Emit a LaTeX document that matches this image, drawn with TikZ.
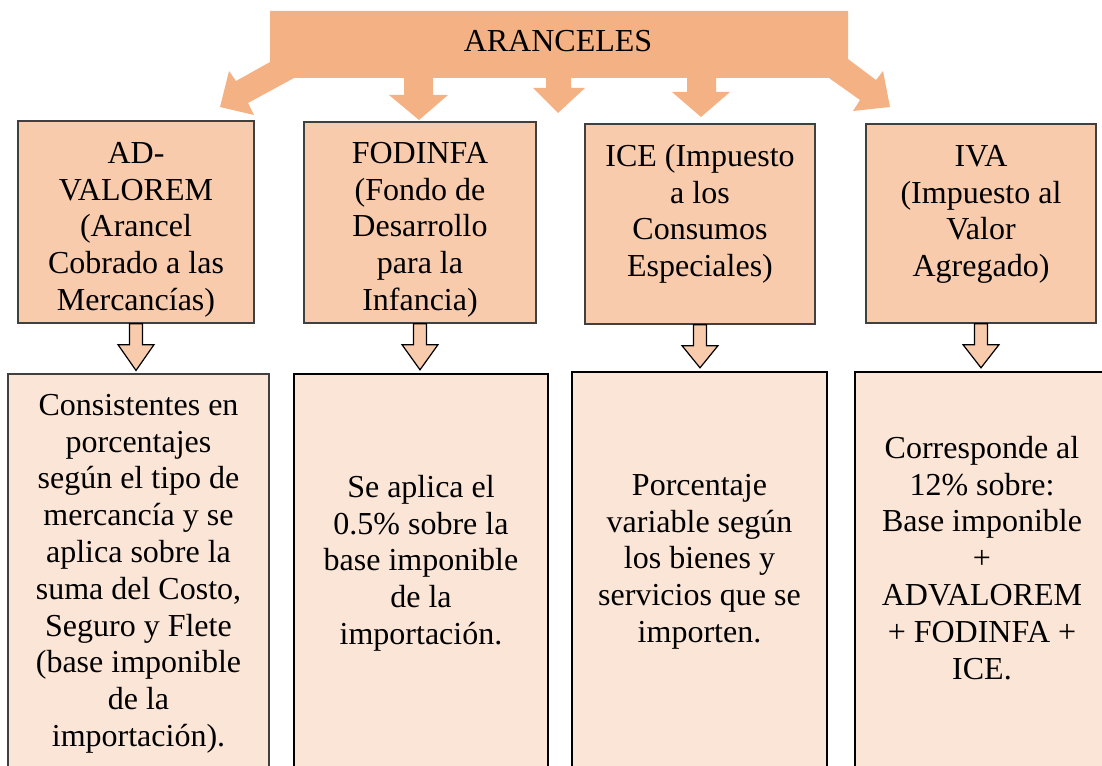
\documentclass[tikz,border=0pt]{standalone}
\usepackage{fontspec}
\setmainfont{Liberation Serif}
\usetikzlibrary{calc}
\definecolor{bigor}{HTML}{F4B183}
\definecolor{midor}{HTML}{F8CBAD}
\definecolor{lightor}{HTML}{FBE5D6}
\definecolor{boxgray}{HTML}{404040}
\newcommand\fs{\rule{0pt}{30pt}}
\begin{document}
\begin{tikzpicture}[x=1pt,y=-1pt,
  topbox/.style={draw=boxgray, line width=1.3pt, fill=midor, inner sep=0pt, rectangle},
  botbox/.style={draw=black, line width=2.4pt, fill=lightor, inner sep=0pt, rectangle},
  botboxthin/.style={draw=boxgray, line width=1.1pt, fill=lightor, inner sep=0pt, rectangle},
  txt/.style={font=\fontsize{32}{36.8}\selectfont, align=center, inner sep=0pt, anchor=north},
  sarrow/.style={draw=black, line width=1.2pt, fill=midor, line join=miter}]
\useasboundingbox (0,0) rectangle (1102,765);
\clip (0,0) rectangle (1102,765);
% big arrow shape
\fill[bigor] (270,11) -- (848,11) -- (848,59) -- (876,80) -- (883,71) -- (890,107) -- (853,111) -- (860,100) -- (829,78)
  -- (716,78) -- (716,92) -- (730,92) -- (701,117) -- (672,92) -- (687,92) -- (687,78)
  -- (571,78) -- (571,88) -- (585,88) -- (558,113) -- (533,88) -- (546,88) -- (546,78)
  -- (433,78) -- (433,95) -- (448,95) -- (419,120) -- (389,95) -- (404,95) -- (404,78)
  -- (294,78) -- (248,103) -- (254,115) -- (220,107) -- (229,71) -- (236,81) -- (270,62) -- cycle;
\node[font=\fontsize{32}{36.8}\selectfont, anchor=base, inner sep=0pt] (title) at (558,52) {ARANCELES};
% top boxes
\node[topbox, minimum width=236pt, minimum height=202pt] (t1) at (136,222) {};
\node[topbox, minimum width=232pt, minimum height=201pt] (t2) at (420,222.5) {};
\node[topbox, minimum width=230pt, minimum height=200pt] (t3) at (700,224) {};
\node[topbox, minimum width=230pt, minimum height=199pt] (t4) at (981,223.5) {};
% bottom boxes
\node[botboxthin, minimum width=261pt, minimum height=446pt] (d1) at (138.5,597) {};
\node[botbox, minimum width=254pt, minimum height=446pt] (d2) at (421,597) {};
\node[botbox, minimum width=255pt, minimum height=448pt] (d3) at (699.5,596) {};
\node[botbox, minimum width=255pt, minimum height=448pt] (d4) at (982.5,596) {};
% small arrows
\foreach \i in {1,...,4}{
  \draw[sarrow] ($(t\i.south)+(-6.5,0)$) -- ++(0,21) -- ++(-11.5,0)
    -- ($(t\i.south |- d\i.north)+(0,-3)$)
    -- ($(t\i.south)+(18,21)$) -- ++(-11.5,0) -- ($(t\i.south)+(6.5,0)$) -- cycle;
}
% texts top
\node[txt] (l1) at (136,133) {\fs AD-\\VALOREM\\(Arancel\\Cobrado a las\\Mercancías)};
\node[txt] (l2) at (420,133) {\fs FODINFA\\(Fondo de\\Desarrollo\\para la\\Infancia)};
\node[txt] (l3) at (700,136) {\fs ICE (Impuesto\\a los\\Consumos\\Especiales)};
\node[txt] (l4) at (981,136) {\fs IVA\\(Impuesto al\\Valor\\Agregado)};
% texts bottom
\node[txt] (m1) at (138.5,385) {\fs Consistentes en\\porcentajes\\según el tipo de\\mercancía y se\\aplica sobre la\\suma del Costo,\\Seguro y Flete\\(base imponible\\de la\\importación).};
\node[txt] (m2) at (421,467) {\fs Se aplica el\\0.5\% sobre la\\base imponible\\de la\\importación.};
\node[txt] (m3) at (699.5,465) {\fs Porcentaje\\variable según\\los bienes y\\servicios que se\\importen.};
\node[txt] (m4) at (982,428) {\fs Corresponde al\\12\% sobre:\\Base imponible\\+\\ADVALOREM\\+ FODINFA +\\ICE.};
\end{tikzpicture}
\end{document}
